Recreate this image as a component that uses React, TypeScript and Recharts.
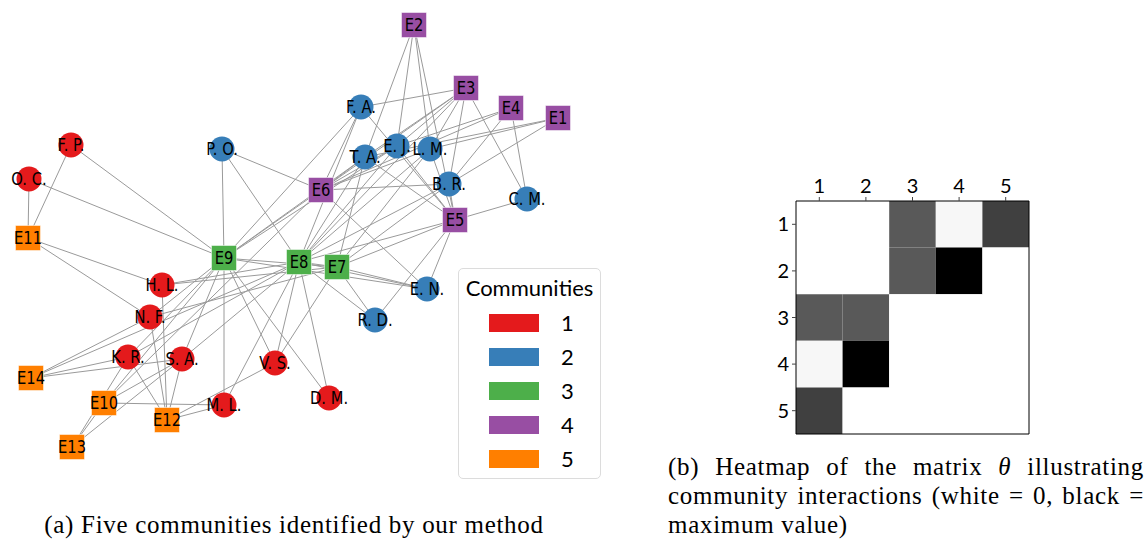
import React from "react";
import { ScatterChart, Scatter, XAxis, YAxis, ReferenceArea } from "recharts";

// ---------- Network data (positions in layout units) ----------
const communityColors = ["#e41a1c", "#377eb8", "#4daf4a", "#984ea3", "#ff7f00"];
const communityLabels = ["1", "2", "3", "4", "5"];

const people = [
  { id: "F. P.", x: 71, y: 145, c: 0 },
  { id: "O. C.", x: 29, y: 179, c: 0 },
  { id: "H. L.", x: 162, y: 285, c: 0 },
  { id: "N. F.", x: 150, y: 317, c: 0 },
  { id: "K. R.", x: 128, y: 357, c: 0 },
  { id: "S. A.", x: 182, y: 359, c: 0 },
  { id: "V. S.", x: 275, y: 363, c: 0 },
  { id: "M. L.", x: 224, y: 405, c: 0 },
  { id: "D. M.", x: 329, y: 398, c: 0 },
  { id: "P. O.", x: 222, y: 149, c: 1 },
  { id: "F. A.", x: 361, y: 107, c: 1 },
  { id: "T. A.", x: 365, y: 157, c: 1 },
  { id: "E. J.", x: 397, y: 146, c: 1 },
  { id: "L. M.", x: 430, y: 149, c: 1 },
  { id: "B. R.", x: 449, y: 184, c: 1 },
  { id: "C. M.", x: 527, y: 199, c: 1 },
  { id: "E. N.", x: 427, y: 289, c: 1 },
  { id: "R. D.", x: 375, y: 320, c: 1 },
];

const events = [
  { id: "E9", x: 224, y: 258, c: 2 },
  { id: "E8", x: 299, y: 262, c: 2 },
  { id: "E7", x: 337, y: 267, c: 2 },
  { id: "E2", x: 414, y: 25, c: 3 },
  { id: "E3", x: 466, y: 88, c: 3 },
  { id: "E4", x: 511, y: 108, c: 3 },
  { id: "E1", x: 558, y: 118, c: 3 },
  { id: "E6", x: 321, y: 190, c: 3 },
  { id: "E5", x: 455, y: 220, c: 3 },
  { id: "E11", x: 28, y: 238, c: 4 },
  { id: "E14", x: 31, y: 378, c: 4 },
  { id: "E10", x: 104, y: 403, c: 4 },
  { id: "E12", x: 167, y: 420, c: 4 },
  { id: "E13", x: 72, y: 447, c: 4 },
];

const edges: [string, string][] = [
  ["E11", "O. C."], ["E11", "F. P."], ["E11", "H. L."], ["E11", "N. F."],
  ["O. C.", "E9"], ["F. P.", "E9"],
  ["P. O.", "E9"], ["P. O.", "E8"], ["P. O.", "E6"],
  ["E9", "E6"], ["E9", "T. A."], ["E9", "F. A."], ["E9", "E. J."],
  ["H. L.", "E8"], ["H. L.", "E7"], ["H. L.", "E12"],
  ["N. F.", "E9"], ["N. F.", "E12"], ["N. F.", "E7"],
  ["E10", "E9"], ["E10", "E6"], ["K. R.", "E9"],
  ["E14", "N. F."], ["E14", "K. R."], ["E14", "S. A."], ["E14", "E8"],
  ["K. R.", "E12"], ["K. R.", "E8"],
  ["S. A.", "E9"], ["S. A.", "E8"], ["S. A.", "E12"], ["S. A.", "E10"],
  ["E13", "S. A."], ["E13", "E10"], ["E13", "K. R."],
  ["E10", "M. L."], ["E12", "M. L."], ["E12", "V. S."],
  ["M. L.", "E9"], ["M. L.", "E8"],
  ["V. S.", "E9"], ["V. S.", "E8"], ["V. S.", "E7"],
  ["D. M.", "E9"], ["D. M.", "E8"],
  ["E9", "E7"], ["E9", "E. N."], ["E7", "E. N."], ["E8", "E. N."],
  ["E8", "R. D."], ["E7", "R. D."], ["E5", "R. D."], ["E5", "E. N."],
  ["E5", "C. M."], ["E5", "E8"], ["E5", "E7"], ["E5", "E. J."], ["E5", "L. M."],
  ["E5", "B. R."], ["E5", "F. A."], ["E5", "T. A."],
  ["E6", "B. R."], ["E6", "T. A."], ["E6", "E. J."], ["E6", "L. M."], ["E6", "E3"],
  ["E6", "E4"], ["E6", "E. N."], ["E6", "F. A."],
  ["E2", "T. A."], ["E2", "E. J."], ["E2", "L. M."], ["E2", "E5"],
  ["E3", "F. A."], ["E3", "E. J."], ["E3", "L. M."], ["E3", "T. A."],
  ["E3", "B. R."], ["E3", "C. M."], ["E3", "E8"],
  ["E4", "E. J."], ["E4", "C. M."], ["E4", "B. R."],
  ["E1", "L. M."], ["E1", "T. A."], ["E1", "B. R."],
  ["F. A.", "E8"], ["T. A.", "E8"], ["T. A.", "E7"],
  ["E. J.", "E8"], ["L. M.", "E8"], ["L. M.", "E7"],
  ["B. R.", "E7"], ["B. R.", "E8"], ["E8", "E7"],
];

// ---------- Heatmap data ----------
const heatLabels = [1, 2, 3, 4, 5];
const theta: number[][] = [
  [0, 0, 0.65, 0.03, 0.75],
  [0, 0, 0.65, 1, 0],
  [0.65, 0.65, 0, 0, 0],
  [0.03, 1, 0, 0, 0],
  [0.75, 0, 0, 0, 0],
];

const allNodes = [...people, ...events];
const nodeById: Record<string, { id: string; x: number; y: number; c: number }> = {};
allNodes.forEach((n) => (nodeById[n.id] = n));

const heatCells = theta.flatMap((row, r) =>
  row.map((v, c) => ({ x: heatLabels[c], y: heatLabels[r], v }))
);

const NodeShape = (props: any) => {
  const { cx, cy, payload } = props;
  if (cx == null || cy == null) return <g />;
  const color = communityColors[payload.c];
  const isEvent = payload.id.startsWith("E") && !payload.id.includes(".");
  return (
    <g>
      {isEvent ? (
        <rect x={cx - 12.5} y={cy - 12.5} width={25} height={25} fill={color} stroke="#ffffff" strokeOpacity={0.5} strokeWidth={1} />
      ) : (
        <circle cx={cx} cy={cy} r={12.5} fill={color} />
      )}
      <text
        transform={`translate(${cx},${cy}) scale(0.82,1)`}
        x={0}
        y={0}
        textAnchor="middle"
        dominantBaseline="central"
        fontFamily="DejaVu Sans"
        fontSize={18}
        fill="#000"
      >
        {payload.id}
      </text>
    </g>
  );
};

const EmptyShape = () => <g />;

const grayFor = (v: number) => {
  const g = Math.round(255 * (1 - v));
  return `rgb(${g},${g},${g})`;
};

const captionFont = {
  fontFamily: "Liberation Serif",
  fontSize: 25,
  letterSpacing: "0.7px",
  color: "#000",
} as const;

export default function App() {
  return (
    <div style={{ position: "absolute", left: 0, top: 0, width: 1148, height: 539, background: "#fff", overflow: "hidden" }}>
      {/* (a) network */}
      <div style={{ position: "absolute", left: 0, top: 0 }}>
        <ScatterChart width={620} height={480} margin={{ top: 0, right: 0, bottom: 0, left: 0 }}>
          <XAxis type="number" dataKey="x" domain={[0, 620]} hide />
          <YAxis type="number" dataKey="y" domain={[0, 480]} reversed hide />
          {edges.map(([a, b], i) => (
            <Scatter
              key={"e" + i}
              data={[nodeById[a], nodeById[b]]}
              line={{ stroke: "#9a9a9a", strokeWidth: 1 }}
              shape={EmptyShape}
              isAnimationActive={false}
            />
          ))}
          <Scatter data={allNodes} shape={NodeShape} isAnimationActive={false} />
        </ScatterChart>
      </div>

      {/* legend */}
      <div
        style={{
          position: "absolute",
          left: 458,
          top: 268,
          width: 143,
          height: 211,
          border: "1px solid #dcdcdc",
          borderRadius: 5,
          boxSizing: "border-box",
          background: "#fff",
          fontFamily: "Lato",
        }}
      >
        <div style={{ position: "absolute", left: 0, width: 141, top: 5, textAlign: "center", fontSize: 22 }}>
          Communities
        </div>
        {communityLabels.map((l, i) => (
          <div key={l} style={{ position: "absolute", top: 45 + i * 34, left: 30, height: 18 }}>
            <div style={{ position: "absolute", left: 0, top: 0, width: 50, height: 18, background: communityColors[i] }} />
            <div style={{ position: "absolute", left: 72, top: -5, fontSize: 22 }}>{l}</div>
          </div>
        ))}
      </div>

      {/* (b) heatmap */}
      <div style={{ position: "absolute", left: 740, top: 150 }}>
        <ScatterChart width={310} height={300} margin={{ top: 21, right: 21, bottom: 16, left: 26 }}>
          <XAxis
            type="number"
            dataKey="x"
            orientation="top"
            domain={[0.5, 5.5]}
            ticks={heatLabels}
            height={30}
            axisLine={false}
            tickSize={4}
            tickMargin={4}
            tickLine={{ stroke: "#444" }}
            tick={{ fill: "#000", fontSize: 20, fontFamily: "Lato" }}
            allowDataOverflow
          />
          <YAxis
            type="number"
            dataKey="y"
            domain={[0.5, 5.5]}
            reversed
            ticks={heatLabels}
            width={30}
            axisLine={false}
            tickSize={4}
            tickMargin={3}
            tickLine={{ stroke: "#444" }}
            tick={{ fill: "#000", fontSize: 20, fontFamily: "Lato" }}
            allowDataOverflow
          />
          <Scatter data={heatCells} shape={EmptyShape} isAnimationActive={false} />
          {heatCells.map((cell, i) => (
            <ReferenceArea
              key={"c" + i}
              x1={cell.x - 0.5}
              x2={cell.x + 0.5}
              y1={cell.y - 0.5}
              y2={cell.y + 0.5}
              fill={grayFor(cell.v)}
              fillOpacity={1}
              stroke="none"
            />
          ))}
          <ReferenceArea x1={0.5} x2={5.5} y1={0.5} y2={5.5} fill="none" stroke="#000" strokeWidth={1} />
        </ScatterChart>
      </div>

      {/* captions */}
      <div
        style={{
          ...captionFont,
          position: "absolute",
          left: 0,
          width: 588,
          top: 511,
          textAlign: "center",
          whiteSpace: "nowrap",
        }}
      >
        (a) Five communities identified by our method
      </div>
      <div
        style={{
          ...captionFont,
          position: "absolute",
          left: 668,
          width: 476,
          top: 452,
          lineHeight: "29px",
        }}
      >
        <div style={{ textAlign: "justify", textAlignLast: "justify", whiteSpace: "nowrap" }}>
          (b) Heatmap of the matrix <i>θ</i> illustrating
        </div>
        <div style={{ textAlign: "justify", textAlignLast: "justify", whiteSpace: "nowrap" }}>
          community interactions (white = 0, black =
        </div>
        <div>maximum value)</div>
      </div>
    </div>
  );
}
